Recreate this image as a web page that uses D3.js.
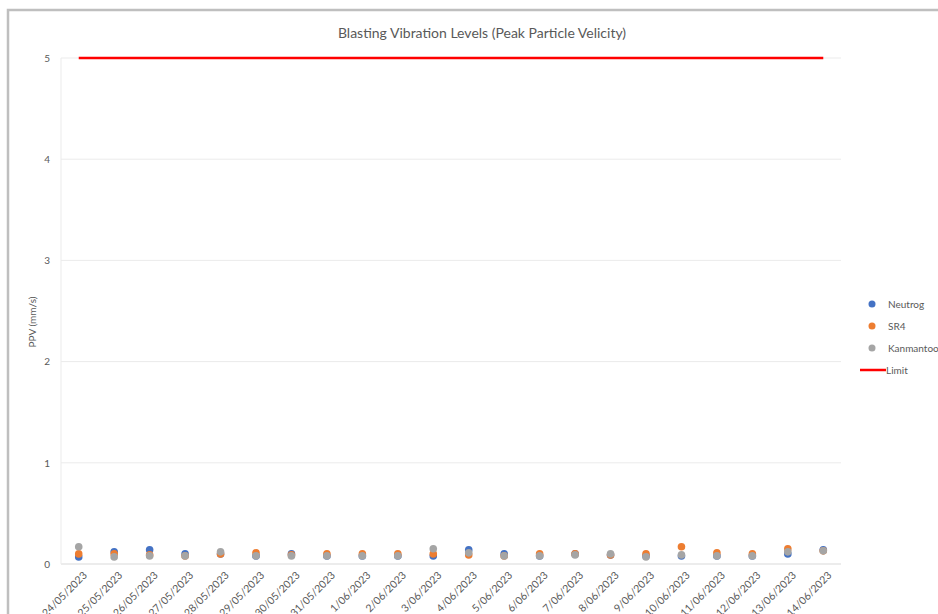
<!DOCTYPE html>
<html>
<head>
<meta charset="utf-8">
<script src="https://cdn.jsdelivr.net/npm/d3@7"></script>
<style>
  body { margin: 0; background: #fff; }
  text { font-family: Lato, "Open Sans", sans-serif; }
</style>
</head>
<body>
<svg id="chart" width="938" height="614"></svg>
<script>
// dates on the category axis
const dates = ["24/05/2023","25/05/2023","26/05/2023","27/05/2023","28/05/2023","29/05/2023","30/05/2023","31/05/2023",
  "1/06/2023","2/06/2023","3/06/2023","4/06/2023","5/06/2023","6/06/2023","7/06/2023","8/06/2023",
  "9/06/2023","10/06/2023","11/06/2023","12/06/2023","13/06/2023","14/06/2023"]

// PPV readings (mm/s)
const neutrog   = [0.07,0.12,0.14,0.10,0.10,0.08,0.10,0.08,0.08,0.08,0.08,0.14,0.10,0.08,0.10,0.09,0.08,0.08,0.08,0.08,0.10,0.14]
const sr4       = [0.10,0.10,0.09,0.08,0.10,0.11,0.09,0.10,0.10,0.10,0.10,0.09,0.08,0.10,0.10,0.09,0.10,0.17,0.11,0.10,0.15,0.13]
const kanmantoo = [0.17,0.07,0.08,0.08,0.12,0.08,0.08,0.08,0.08,0.08,0.15,0.11,0.08,0.08,0.09,0.10,0.07,0.09,0.08,0.08,0.12,0.13]
const limit = 5

const yTicks = [0,1,2,3,4,5]

const series = [
  {name: "Neutrog", values: neutrog, color: "#4472c4"},
  {name: "SR4", values: sr4, color: "#ed7d31"},
  {name: "Kanmantoo", values: kanmantoo, color: "#a5a5a5"}
]

var svg = d3.select("#chart")

// chart frame (cut by the window on right and bottom)
svg.append("path").attr("d","M938,10 H8 V614").attr("fill","none").attr("stroke","#bfbfbf").attr("stroke-width",2.5)

var plotLeft = 61, plotRight = 841, plotTop = 58, plotBottom = 564

var x = d3.scaleBand().domain(dates).range([plotLeft, plotRight])
var y = d3.scaleLinear().domain([0,5]).range([plotBottom, plotTop])

// gridlines
svg.append("g").selectAll("line").data(yTicks).enter().append("line")
  .attr("x1",plotLeft).attr("x2",plotRight).attr("y1",d => y(d)).attr("y2",d => y(d))
  .attr("stroke", d => d == 0 ? "#d9d9d9" : "#ebebeb").attr("stroke-width",1)
svg.append("line").attr("x1",plotLeft).attr("x2",plotLeft).attr("y1",plotTop).attr("y2",plotBottom).attr("stroke","#ebebeb")

// y axis labels
var yAxis = d3.axisLeft(y).tickValues(yTicks).tickSize(0).tickPadding(11).tickFormat(d3.format("d"))
var gy = svg.append("g").attr("transform","translate(" + plotLeft + ",0)").call(yAxis)
gy.select(".domain").remove()
gy.selectAll("text").attr("fill","#595959").style("font-size","10px")

// x axis labels
var xAxis = d3.axisBottom(x).tickSize(0).tickPadding(0)
var gx = svg.append("g").attr("transform","translate(0," + plotBottom + ")").call(xAxis)
gx.select(".domain").remove()
gx.selectAll("text")
  .attr("fill","#595959").style("font-size","10.5px")
  .attr("text-anchor","end").attr("dy",0)
  .attr("transform","translate(9,12) rotate(-45)")

// limit line
svg.append("path")
  .datum(dates)
  .attr("d", d3.line().x(d => x(d) + x.bandwidth()/2).y(() => y(limit)))
  .attr("fill","none").attr("stroke","#ff0000").attr("stroke-width",2.5)

// points
series.forEach(function(s) {
  svg.append("g").selectAll("circle").data(s.values).enter().append("circle")
    .attr("cx",(d,i) => x(dates[i]) + x.bandwidth()/2)
    .attr("cy",d => y(d))
    .attr("r",3.8)
    .attr("fill",s.color)
})

// title
svg.append("text").attr("x",482).attr("y",38).attr("text-anchor","middle")
  .attr("fill","#595959").style("font-size","14px").text("Blasting Vibration Levels (Peak Particle Velicity)")

// y title
svg.append("text").attr("transform","translate(36,322) rotate(-90)").attr("text-anchor","middle")
  .attr("fill","#595959").style("font-size","10px").text("PPV (mm/s)")

// legend
var legend = svg.append("g")
series.forEach(function(s,i) {
  legend.append("circle").attr("cx",872).attr("cy",304 + i*22).attr("r",3.5).attr("fill",s.color)
  legend.append("text").attr("x",888).attr("y",304 + i*22).attr("dy","0.35em")
    .attr("fill","#595959").style("font-size","10px").text(s.name)
})
legend.append("line").attr("x1",860).attr("x2",886).attr("y1",370).attr("y2",370).attr("stroke","#ff0000").attr("stroke-width",2.5)
legend.append("text").attr("x",886).attr("y",370).attr("dy","0.35em")
  .attr("fill","#595959").style("font-size","10px").text("Limit")
</script>
</body>
</html>
